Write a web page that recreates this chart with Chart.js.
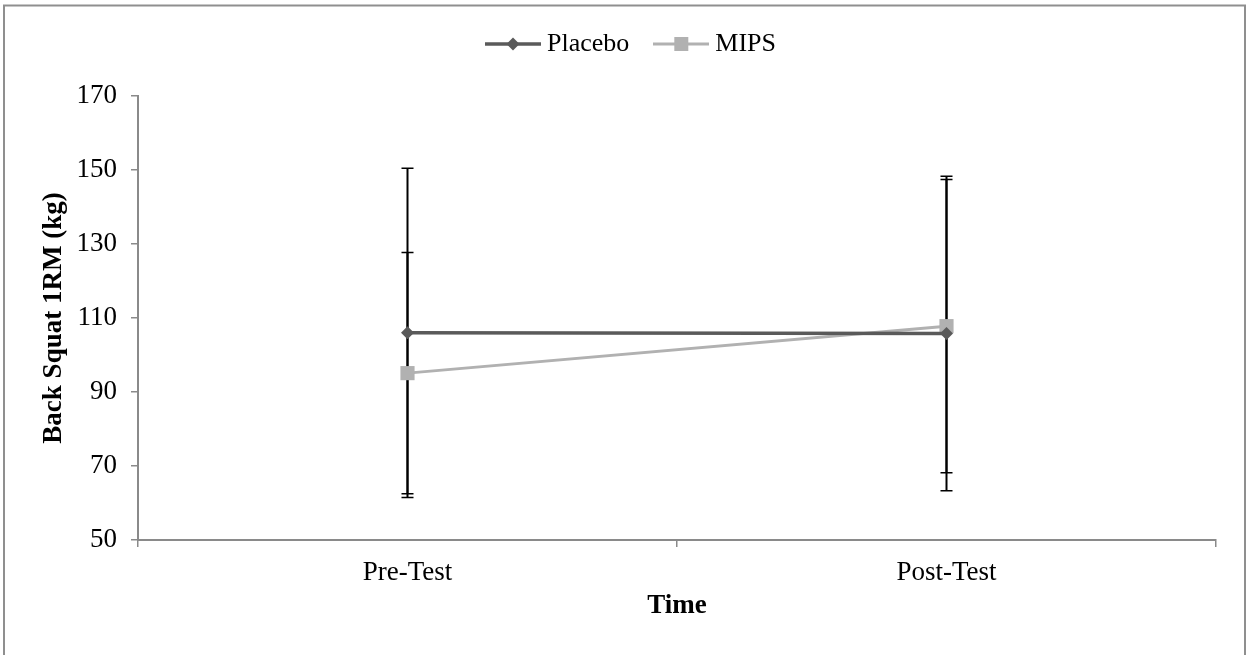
<!DOCTYPE html>
<html>
<head>
<meta charset="utf-8">
<script src="https://cdn.jsdelivr.net/npm/chart.js@4/dist/chart.umd.min.js"></script>
<style>
  html, body { margin: 0; padding: 0; background: #fff; }
  #c { display: block; }
</style>
</head>
<body>
<canvas id="c" width="1246" height="655"></canvas>
<script>
// ---- data ----
const categories = ['Pre-Test', 'Post-Test'];
const placeboMean = [106.0, 105.8];
const placeboSD = [44.5, 42.5];
const mipsMean = [95.1, 107.8];
const mipsSD = [32.6, 39.6];
const yTicks = [50, 70, 90, 110, 130, 150, 170];

const FONT = '"Liberation Serif", "Times New Roman", serif';
const PLACEBO_COLOR = '#5a5a5a';
const MIPS_COLOR = '#b1b1b1';
const AXIS_COLOR = '#8a8a8a';

function legendSymbol(color, style, radius, lw) {
  const cv = document.createElement('canvas');
  cv.width = 56; cv.height = 20;
  const ctx = cv.getContext('2d');
  ctx.strokeStyle = color;
  ctx.lineWidth = lw;
  ctx.beginPath(); ctx.moveTo(0, 10); ctx.lineTo(56, 10); ctx.stroke();
  ctx.fillStyle = color;
  ctx.beginPath();
  if (style === 'diamond') {
    ctx.moveTo(28, 10 - radius); ctx.lineTo(28 + radius, 10);
    ctx.lineTo(28, 10 + radius); ctx.lineTo(28 - radius, 10);
    ctx.closePath();
  } else {
    ctx.rect(28 - radius, 10 - radius, 2 * radius, 2 * radius);
  }
  ctx.fill();
  return cv;
}
const placeboSym = legendSymbol(PLACEBO_COLOR, 'diamond', 6.5, 3.5);
const mipsSym = legendSymbol(MIPS_COLOR, 'square', 7, 3);

const errorBars = {
  id: 'errorBars',
  beforeDatasetsDraw(chart) {
    const ctx = chart.ctx;
    const y = chart.scales.y;
    const sds = [placeboSD, mipsSD];
    chart.data.datasets.forEach((ds, i) => {
      const meta = chart.getDatasetMeta(i);
      meta.data.forEach((pt, j) => {
        const m = ds.data[j], s = sds[i][j];
        const yt = y.getPixelForValue(m + s);
        const yb = y.getPixelForValue(m - s);
        const x = pt.x;
        ctx.save();
        ctx.strokeStyle = '#000';
        ctx.lineWidth = 2;
        ctx.beginPath(); ctx.moveTo(x, yt); ctx.lineTo(x, yb); ctx.stroke();
        ctx.lineWidth = 1.5;
        ctx.beginPath();
        ctx.moveTo(x - 6, yt); ctx.lineTo(x + 6, yt);
        ctx.moveTo(x - 6, yb); ctx.lineTo(x + 6, yb);
        ctx.stroke();
        ctx.restore();
      });
    });
  }
};

const frame = {
  id: 'frame',
  afterInit(chart) {
    const lg = chart.legend;
    if (lg) {
      const orig = lg.fit;
      lg.fit = function () { orig.call(this); this.height = 96; };
    }
  },
  afterLayout(chart) {
    const lg = chart.legend;
    if (lg) { lg.left += 26; lg.right += 26; }
  },
  afterDraw(chart) {
    const ctx = chart.ctx;
    ctx.save();
    ctx.strokeStyle = '#8f8f8f';
    ctx.lineWidth = 2;
    ctx.strokeRect(4, 5.5, 1241, 700);
    ctx.restore();
  }
};

new Chart(document.getElementById('c'), {
  type: 'line',
  data: {
    labels: categories,
    datasets: [
      {
        label: 'Placebo',
        data: placeboMean,
        borderColor: PLACEBO_COLOR,
        backgroundColor: PLACEBO_COLOR,
        borderWidth: 3.5,
        pointStyle: 'rectRot',
        pointRadius: 6.5,
        pointBorderWidth: 0,
        tension: 0
      },
      {
        label: 'MIPS',
        data: mipsMean,
        borderColor: MIPS_COLOR,
        backgroundColor: MIPS_COLOR,
        borderWidth: 3,
        pointStyle: 'rect',
        pointRadius: 10,
        pointBorderWidth: 0,
        tension: 0
      }
    ]
  },
  options: {
    responsive: false,
    animation: false,
    devicePixelRatio: 1,
    layout: { padding: { top: 0, right: 30, bottom: 0, left: 0 } },
    plugins: {
      tooltip: { enabled: false },
      legend: {
        position: 'top',
        labels: {
          usePointStyle: true,
          pointStyleWidth: 42,
          padding: 31,
          color: '#000',
          font: { family: FONT, size: 26 },
          generateLabels(chart) {
            return [
              { text: 'Placebo', pointStyle: placeboSym, fillStyle: PLACEBO_COLOR, strokeStyle: PLACEBO_COLOR, lineWidth: 0, datasetIndex: 0, hidden: false },
              { text: 'MIPS', pointStyle: mipsSym, fillStyle: MIPS_COLOR, strokeStyle: MIPS_COLOR, lineWidth: 0, datasetIndex: 1, hidden: false }
            ];
          }
        }
      }
    },
    scales: {
      x: {
        type: 'category',
        offset: true,
        afterFit(s) { s.height = 115; },
        grid: { display: true, offset: true, drawOnChartArea: false, drawTicks: true, tickLength: 7, color: AXIS_COLOR, lineWidth: 1.5 },
        border: { display: true, color: AXIS_COLOR, width: 2 },
        ticks: { color: '#000', padding: 10, font: { family: FONT, size: 27 } },
        title: { display: true, text: 'Time', color: '#000', font: { family: FONT, size: 27, weight: 'bold' }, padding: { top: 0, bottom: 33 } }
      },
      y: {
        min: 50,
        max: 170,
        afterFit(s) { s.width = 138; },
        afterBuildTicks(s) { s.ticks = yTicks.map(v => ({ value: v })); },
        grid: { display: true, drawOnChartArea: false, drawTicks: true, tickLength: 7, color: AXIS_COLOR, lineWidth: 1.5 },
        border: { display: true, color: AXIS_COLOR, width: 2 },
        ticks: { color: '#000', padding: 14, font: { family: FONT, size: 27 } },
        title: { display: true, text: 'Back Squat 1RM (kg)', color: '#000', font: { family: FONT, size: 27, weight: 'bold' }, padding: { top: 38, bottom: 0 } }
      }
    }
  },
  plugins: [errorBars, frame]
});
</script>
</body>
</html>
